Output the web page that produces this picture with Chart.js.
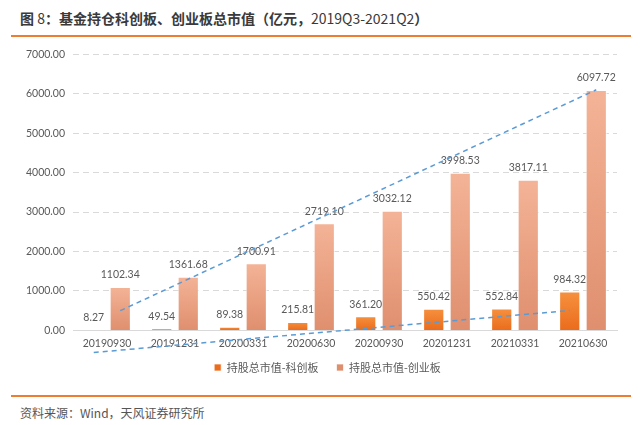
<!DOCTYPE html>
<html>
<head>
<meta charset="utf-8">
<script src="https://cdn.jsdelivr.net/npm/chart.js@4.4.1/dist/chart.umd.min.js"></script>
<style>
  html, body { margin: 0; padding: 0; background: #fff; }
  body { width: 641px; height: 425px; position: relative; overflow: hidden; }
  .title {
    position: absolute; left: 20px; top: 8px;
    font: bold 14px "Noto Sans CJK SC", sans-serif; color: #3a3a3a; white-space: nowrap;
  }
  .title .n { font-weight: normal; }
  .rule { position: absolute; left: 11px; width: 620px; height: 2px; background: #ed7d31; }
  .source {
    position: absolute; left: 20px; top: 404px;
    font: 12px "Noto Sans CJK SC", sans-serif; color: #555;
  }
  .wrap { position: absolute; left: 0; top: 40px; width: 641px; height: 356px; }
</style>
</head>
<body>
<div class="title">图 <span class="n">8</span>：基金持仓科创板、创业板总市值（亿元，<span class="n">2019Q3-2021Q2</span>）</div>
<div class="rule" style="top:35px"></div>
<div class="wrap"><canvas id="chart"></canvas></div>
<div class="rule" style="top:395px"></div>
<div class="source">资料来源：Wind，天风证券研究所</div>
<script>
const categories = ["20190930", "20191231", "20200331", "20200630", "20200930", "20201231", "20210331", "20210630"];
const starMarket = [8.27, 49.54, 89.38, 215.81, 361.20, 550.42, 552.84, 984.32];
const gemMarket = [1102.34, 1361.68, 1700.91, 2719.10, 3032.12, 3998.53, 3817.11, 6097.72];
// hand-drawn dashed trend lines: value at first and last quarter
const starTrend = [-560, 505];
const gemTrend = [500, 6100];
const yTicks = [0, 1000, 2000, 3000, 4000, 5000, 6000, 7000];

const barShift = 0.195; // bar centre offset from category centre, in categories
const labelFont = "10.5px Lato, sans-serif";

function barGradient(top, bottom) {
  return (c) => {
    const chart = c.chart;
    if (!chart.chartArea || c.parsed === undefined) return bottom;
    const y = chart.scales.y;
    const y0 = y.getPixelForValue(0);
    const y1 = y.getPixelForValue(c.parsed.y);
    const g = chart.ctx.createLinearGradient(0, y1, 0, y0);
    g.addColorStop(0, top);
    g.addColorStop(1, bottom);
    return g;
  };
}

const valueLabels = {
  id: "valueLabels",
  afterDatasetDraw(chart, args) {
    const ds = chart.data.datasets[args.index];
    const { ctx } = chart;
    ctx.save();
    ctx.font = labelFont;
    ctx.fillStyle = "#595959";
    ctx.textAlign = "center";
    ctx.textBaseline = "middle";
    args.meta.data.forEach((bar, i) => {
      ctx.fillText(ds.data[i].toFixed(2), bar.x, bar.y - 12);
    });
    ctx.restore();
  },
};

// dashed trend lines, placed through the chart's own scales
const trendLines = {
  id: "trendLines",
  afterDatasetsDraw(chart) {
    const { ctx, scales: { x, y } } = chart;
    const step = x.getPixelForValue(1) - x.getPixelForValue(0);
    const last = categories.length - 1;
    const draw = (ends, shift) => {
      ctx.beginPath();
      ctx.moveTo(x.getPixelForValue(0) + shift * step, y.getPixelForValue(ends[0]));
      ctx.lineTo(x.getPixelForValue(last) + shift * step, y.getPixelForValue(ends[1]));
      ctx.stroke();
    };
    ctx.save();
    ctx.strokeStyle = "#5b9bd5";
    ctx.lineWidth = 1.5;
    ctx.setLineDash([5, 4]);
    draw(gemTrend, barShift);
    draw(starTrend, -barShift);
    ctx.restore();
  },
};

// nudge the legend right/up to sit where the original one does
const legendShift = {
  id: "legendShift",
  afterLayout(chart) {
    const lg = chart.legend;
    lg.left += 19;
    lg.right += 19;
    lg.top -= 13;
    lg.bottom -= 13;
  },
};

new Chart(document.getElementById("chart"), {
  type: "bar",
  data: {
    labels: categories,
    datasets: [
      {
        label: "持股总市值-科创板",
        data: starMarket,
        backgroundColor: barGradient("#f6913f", "#ea6c1c"),
        borderColor: "rgba(255,255,255,0.7)",
        borderWidth: 1,
      },
      {
        label: "持股总市值-创业板",
        data: gemMarket,
        backgroundColor: barGradient("#f4b397", "#df8f6e"),
        borderColor: "rgba(255,255,255,0.7)",
        borderWidth: 1,
      },
    ],
  },
  options: {
    responsive: true,
    maintainAspectRatio: false,
    animation: false,
    categoryPercentage: 0.78,
    barPercentage: 0.8,
    layout: { padding: { top: 12, right: 24, left: 0, bottom: 0 } },
    scales: {
      x: {
        grid: { display: false, drawTicks: false },
        border: { display: true, color: "#d9d9d9", width: 1 },
        ticks: { color: "#595959", font: { family: "Lato", size: 10.5 }, padding: 7, maxRotation: 0 },
      },
      y: {
        min: yTicks[0],
        max: yTicks[yTicks.length - 1],
        afterBuildTicks: (s) => { s.ticks = yTicks.map((v) => ({ value: v })); },
        grid: { color: "#d9d9d9", drawTicks: false },
        border: { display: false, dash: [6, 4] },
        ticks: {
          color: "#595959",
          font: { family: "Lato", size: 10.5 },
          padding: 8,
          callback: (v) => Number(v).toFixed(2),
        },
        afterFit: (s) => { s.width = 73; },
      },
    },
    plugins: {
      legend: {
        position: "bottom",
        labels: {
          color: "#595959",
          font: { family: "Noto Sans CJK SC", size: 11 },
          boxWidth: 7,
          boxHeight: 7,
          padding: 18,
        },
      },
      tooltip: { enabled: false },
    },
  },
  plugins: [valueLabels, trendLines, legendShift],
});
</script>
</body>
</html>
